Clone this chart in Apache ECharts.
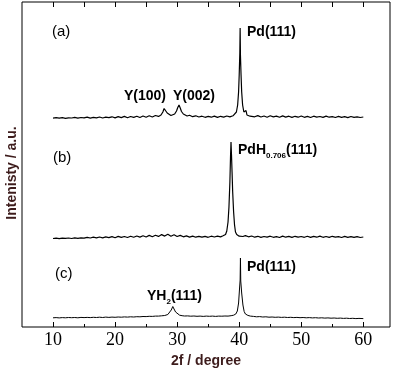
<!DOCTYPE html>
<html><head><meta charset="utf-8">
<script src="https://cdn.jsdelivr.net/npm/echarts@6/dist/echarts.min.js"></script>
<style>html,body{margin:0;padding:0;background:#fff}#c{width:400px;height:380px}</style>
</head><body><div id="c"></div>
<script>
// ---- data (2θ in degrees, intensity in arbitrary units) ----
const xTickLabels = [10, 20, 30, 40, 50, 60];
const xMinorTicks = [15, 25, 35, 45, 55];
const xTopTicks = [10, 15, 20, 25, 30, 35, 40, 45, 50, 55, 60];

const twoThetaA = [10,10.5,11,11.5,12,12.5,13,13.5,14,14.5,15,15.5,16,16.5,17,17.5,18,18.5,19,19.5,20,20.5,21,21.5,22,22.5,23,23.5,24,24.5,25,25.5,26,26.5,27,27.4,27.7,27.9,28.05,28.2,28.4,28.7,29,29.3,29.6,29.9,30.1,30.3,30.5,30.7,31,31.3,31.6,32,32.5,33,33.5,34,34.5,35,35.5,36,36.5,37,37.5,38,38.5,39,39.3,39.55,39.75,39.9,40,40.1,40.15,40.2,40.3,40.4,40.55,40.75,40.95,41.1,41.25,41.5,41.75,42,42.5,43,43.5,44,44.5,45,45.5,46,46.5,47,47.5,48,48.5,49,49.5,50,50.5,51,51.5,52,52.5,53,53.5,54,54.5,55,55.5,56,56.5,57,57.5,58,58.5,59,59.5,60];
const intensityA = [8.8,9.3,8.9,9.4,8.7,9.2,9.0,9.6,8.8,9.5,9.1,9.8,8.9,9.7,9.2,10.0,9.0,9.9,9.3,10.2,9.1,10.4,9.4,10.6,9.2,10.5,9.6,10.8,9.5,11.0,9.8,11.2,10.0,11.5,10.6,12,15,18.5,20,17,14,12.5,11.5,12.5,13,16,19.5,22,19,15.5,13,12.2,11,11.8,10.3,11.2,10.0,10.8,9.7,10.6,9.8,10.9,9.6,10.7,9.9,11.0,10.1,11.2,12,15,22,35,52,74,99,72,52,35,22,15,13,16.5,12,13.5,10.8,12,10.2,11.4,10.0,11.0,9.8,11.2,10.1,10.9,9.7,11.1,9.9,10.8,9.6,10.7,9.8,11.0,9.7,10.6,9.5,10.8,9.9,10.5,9.6,10.9,9.8,10.4,9.5,10.6,9.7,10.3,9.4,10.5,9.6,10.2,9.5,10.0];

const twoThetaB = [10,10.5,11,11.5,12,12.5,13,13.5,14,14.5,15,15.5,16,16.5,17,17.5,18,18.5,19,19.5,20,20.5,21,21.5,22,22.5,23,23.5,24,24.5,25,25.5,26,26.5,27,27.5,28,28.5,29,29.5,30,30.5,31,31.5,32,32.5,33,33.5,34,34.5,35,35.5,36,36.5,37,37.4,37.8,38,38.2,38.35,38.5,38.6,38.68,38.76,38.85,38.95,39.1,39.25,39.4,39.6,39.8,40,40.3,40.6,41,41.5,42,42.5,43,43.5,44,44.5,45,45.5,46,46.5,47,47.5,48,48.5,49,49.5,50,50.5,51,51.5,52,52.5,53,53.5,54,54.5,55,55.5,56,56.5,57,57.5,58,58.5,59,59.5,60];
const intensityB = [8.5,8.9,8.4,8.8,8.6,9.0,8.5,9.1,8.7,9.2,8.8,9.6,9.0,9.8,9.1,10.0,9.2,10.1,9.4,10.4,9.3,10.6,9.6,10.5,9.5,10.8,9.7,11.0,9.9,11.2,10.0,11.6,10.3,11.8,10.6,12.4,10.9,12.8,10.8,12.2,10.5,11.6,10.2,11.1,9.9,10.9,9.8,10.7,9.9,10.6,9.7,10.8,10.0,10.9,10.1,11.2,12.5,16,25,40,65,90,105,92,75,55,35,22,15,12.5,13.5,10.8,12.2,10.5,11.4,10.2,11.0,9.8,10.7,9.6,10.5,9.9,10.8,9.7,10.4,9.5,10.9,9.8,10.6,9.6,10.7,9.9,10.5,9.7,10.8,9.6,10.6,9.8,10.9,9.7,10.5,9.6,10.7,9.8,10.4,9.5,10.6,9.7,10.3,9.6,10.4,9.5,10.0];

const twoThetaC = [10,10.5,11,11.5,12,12.5,13,13.5,14,14.5,15,15.5,16,16.5,17,17.5,18,18.5,19,19.5,20,20.5,21,21.5,22,22.5,23,23.5,24,24.5,25,25.5,26,26.5,27,27.5,28,28.5,28.8,29.05,29.3,29.5,29.75,30,30.4,30.8,31.2,31.7,32.2,32.7,33.2,33.7,34.2,34.7,35.2,35.7,36.2,36.7,37.2,37.7,38.2,38.7,39.1,39.45,39.7,39.9,40.05,40.15,40.2,40.25,40.4,40.6,40.8,41,41.4,41.8,42.3,42.8,43.3,43.8,44.3,44.8,45.3,45.8,46.3,46.8,47.3,47.8,48.3,48.8,49.3,49.8,50.3,50.8,51.3,51.8,52.3,52.8,53.3,53.8,54.3,54.8,55.3,55.8,56.3,56.8,57.3,57.8,58.3,58.8,59.3,60];
const intensityC = [9.2,9.4,9.1,9.4,9.2,9.5,9.3,9.5,9.2,9.6,9.4,9.6,9.4,9.7,9.5,9.8,9.5,9.9,9.6,9.9,9.7,10.0,9.8,10.1,9.9,10.2,10.0,10.3,10.2,10.5,10.4,10.7,10.6,10.9,10.9,11.2,11.5,12.5,14,17,20.5,18,15,13,11.8,11.3,11.0,11.1,10.8,11.0,10.7,10.9,10.6,10.9,10.7,10.9,10.6,10.9,10.8,11.0,10.9,11.3,11.8,13,16,24,38,47,69,46,34,22,15.5,13,11.6,10.9,10.6,10.2,10.4,10.0,10.2,9.8,10.0,9.7,9.9,9.6,9.8,9.5,9.7,9.4,9.6,9.3,9.5,9.2,9.4,9.1,9.3,9.0,9.2,8.9,9.1,8.8,9.0,8.7,8.9,8.6,8.8,8.5,8.7,8.4,8.6,8.4];

// vertical offsets used to stack the three patterns
const offsetA = 200, offsetB = 80, offsetC = 0;

function build(tt, ii, off) { return tt.map((t, k) => [t, ii[k] + off]); }

const chart = echarts.init(document.getElementById('c'), null, {renderer: 'canvas'});
const sans = '"Liberation Sans", Arial, sans-serif';
const brown = '#3d1c1c';
const noisyLine = {color: '#000', width: 1.2};
const smoothLine = {color: '#000', width: 1};
const rich = {
  m: {fontFamily: sans, fontWeight: 'bold', fontSize: 14, fill: '#000', lineHeight: 20, verticalAlign: 'middle'},
  s: {fontFamily: sans, fontWeight: 'bold', fontSize: 8, fill: '#000', lineHeight: 10, verticalAlign: 'bottom'}
};
function lbl(x, y, text, size, bold) {
  return {type: 'text', x: x, y: y, silent: true,
    style: {text: text, fontFamily: sans, fontSize: size, fontWeight: bold ? 'bold' : 'normal', fill: '#000', verticalAlign: 'middle', align: 'left'}};
}
function richLbl(x, y, text) {
  return {type: 'text', x: x, y: y, silent: true,
    style: {text: text, rich: rich, verticalAlign: 'middle', align: 'left'}};
}

const xBase = {type: 'value', min: 5, max: 64.3, splitLine: {show: false}, axisLine: {show: false}};
chart.setOption({
  animation: false,
  grid: {left: 22, right: 10, top: 2, bottom: 53, show: true, borderColor: '#000', borderWidth: 1, backgroundColor: 'transparent'},
  xAxis: [
    Object.assign({}, xBase, {
      position: 'bottom',
      axisTick: {show: true, inside: true, length: 5, lineStyle: {color: '#000'}, customValues: xTickLabels},
      axisLabel: {show: true, customValues: xTickLabels, fontFamily: '"Liberation Serif", "Times New Roman", serif', fontSize: 18, color: '#000', margin: 4},
      name: '2f / degree', nameLocation: 'middle', nameGap: 23,
      nameTextStyle: {fontFamily: sans, fontWeight: 'bold', fontSize: 14, color: brown}
    }),
    Object.assign({}, xBase, {
      position: 'bottom',
      axisTick: {show: true, inside: true, length: 3, lineStyle: {color: '#000'}, customValues: xMinorTicks},
      axisLabel: {show: false}
    }),
    Object.assign({}, xBase, {
      position: 'top',
      axisTick: {show: true, inside: true, length: 5, lineStyle: {color: '#000'}, customValues: xTopTicks},
      axisLabel: {show: false}
    })
  ],
  yAxis: {type: 'value', min: 0, max: 325, axisLine: {show: false}, axisTick: {show: false}, axisLabel: {show: false}, splitLine: {show: false}},
  series: [
    {type: 'line', xAxisIndex: 0, data: build(twoThetaA, intensityA, offsetA), showSymbol: false, lineStyle: noisyLine},
    {type: 'line', xAxisIndex: 0, data: build(twoThetaB, intensityB, offsetB), showSymbol: false, lineStyle: noisyLine},
    {type: 'line', xAxisIndex: 0, data: build(twoThetaC, intensityC, offsetC), showSymbol: false, lineStyle: smoothLine}
  ],
  graphic: [
    {type: 'text', x: 12, y: 173, rotation: Math.PI / 2, silent: true,
      style: {text: 'Intenisty / a.u.', fontFamily: sans, fontWeight: 'bold', fontSize: 14, fill: brown, align: 'center', verticalAlign: 'middle'}},
    lbl(52, 32, '(a)', 15, false),
    lbl(247, 32, 'Pd(111)', 14, true),
    lbl(124, 96, 'Y(100)', 14, true),
    lbl(173, 96, 'Y(002)', 14, true),
    lbl(53, 158, '(b)', 15, false),
    richLbl(238, 150, '{m|PdH}{s|0.706}{m|(111)}'),
    lbl(55, 274, '(c)', 15, false),
    lbl(247, 267, 'Pd(111)', 14, true),
    richLbl(147, 296, '{m|YH}{s|2}{m|(111)}')
  ]
});
</script></body></html>
